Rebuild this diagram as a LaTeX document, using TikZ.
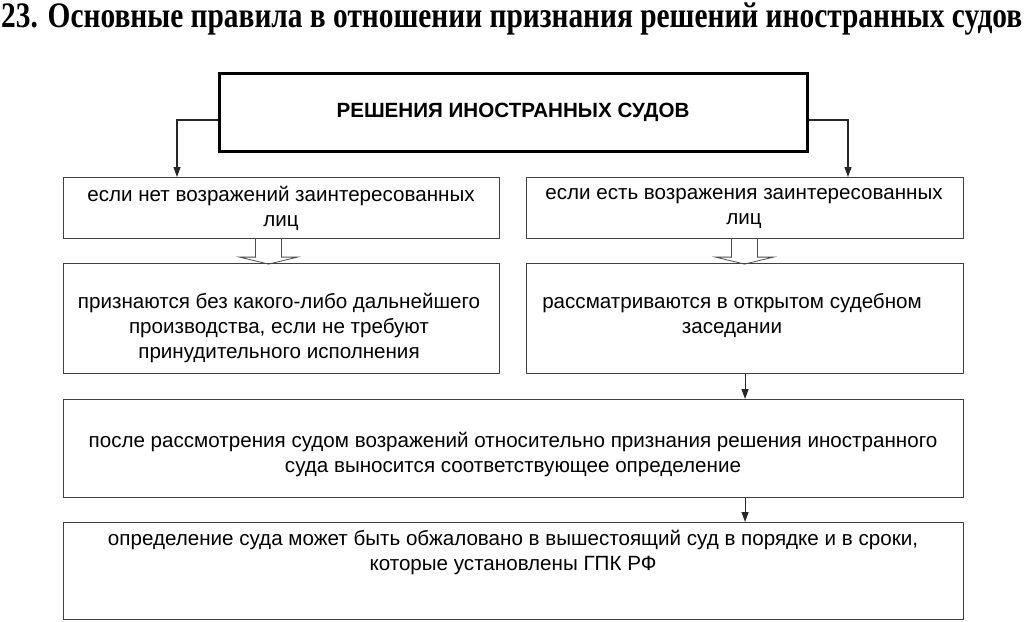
\documentclass[tikz,border=0pt]{standalone}
\usepackage{fontspec}
\setmainfont{Liberation Sans}
\newfontfamily\titlefont{Liberation Serif}
\usetikzlibrary{arrows.meta}
\begin{document}
\begin{tikzpicture}[x=1pt,y=-1pt,
  box/.style={draw=black!75, line width=1.1pt, inner sep=0pt, anchor=north west},
  topbox/.style={draw=black, line width=3pt, inner sep=0pt, anchor=north west},
  txt/.style={inner sep=0pt, align=center, font=\fontsize{20.6}{25}\selectfont},
  arr/.style={draw=black!85, line width=1.1pt, -{Triangle[length=10pt,width=7pt]}},
  hollow/.style={draw=black!70, line width=0.8pt},
]
\useasboundingbox (0,0) rectangle (1024,621);

% title
\node[anchor=base west, inner sep=0pt] (title) at (1,27)
  {\scalebox{1}[1.22]{\resizebox{1021pt}{!}{\titlefont\bfseries 23. Основные правила в отношении признания решений иностранных судов}}};

% boxes
\node[topbox, minimum width=588pt, minimum height=78pt] (top) at (218,72) {};
\node[box, minimum width=436pt, minimum height=61pt] (l1) at (63,177) {};
\node[box, minimum width=437pt, minimum height=61pt] (r1) at (526,177) {};
\node[box, minimum width=436pt, minimum height=110pt] (l2) at (63,263) {};
\node[box, minimum width=437pt, minimum height=110pt] (r2) at (526,263) {};
\node[box, minimum width=900pt, minimum height=98pt] (b3) at (63,399) {};
\node[box, minimum width=900pt, minimum height=97pt] (b4) at (63,522) {};

% texts
\node[txt, font=\fontsize{20.6}{25}\selectfont\bfseries] (ttop) at (513,112.5) {РЕШЕНИЯ ИНОСТРАННЫХ СУДОВ};
\node[txt] (tl1) at (281,208.5) {если нет возражений заинтересованных\\лиц};
\node[txt] (tr1) at (744,208.5) {если есть возражения заинтересованных\\лиц};
\node[txt] (tl2) at (279,328) {признаются без какого-либо дальнейшего\\производства, если не требуют\\принудительного исполнения};
\node[txt] (tr2) at (732,315) {рассматриваются в открытом судебном\\заседании};
\node[txt] (t3) at (513,454.5) {после рассмотрения судом возражений относительно признания решения иностранного\\суда выносится соответствующее определение};
\node[txt] (t4) at (513,552.5) {определение суда может быть обжаловано в вышестоящий суд в порядке и в сроки,\\которые установлены ГПК РФ};

% connectors
\draw[arr] (top.west |- 0,120) -| (177,0 |- l1.north);
\draw[arr] (top.east |- 0,120) -| (848,0 |- r1.north);
\draw[arr] (r2.south) -- (b3.north -| r2.south);
\draw[arr] (b3.south -| r2.south) -- (b4.north -| r2.south);

% hollow arrows
\draw[hollow] (l1.south) ++(-26,0) -- ++(0,18) -- ++(-16,0) -- ++(29,7) -- ++(29,-7) -- ++(-16,0) -- ++(0,-18);
\draw[hollow] (r1.south) ++(-13.5,0) -- ++(0,18) -- ++(-16,0) -- ++(29,7) -- ++(29,-7) -- ++(-16,0) -- ++(0,-18);
\end{tikzpicture}
\end{document}
